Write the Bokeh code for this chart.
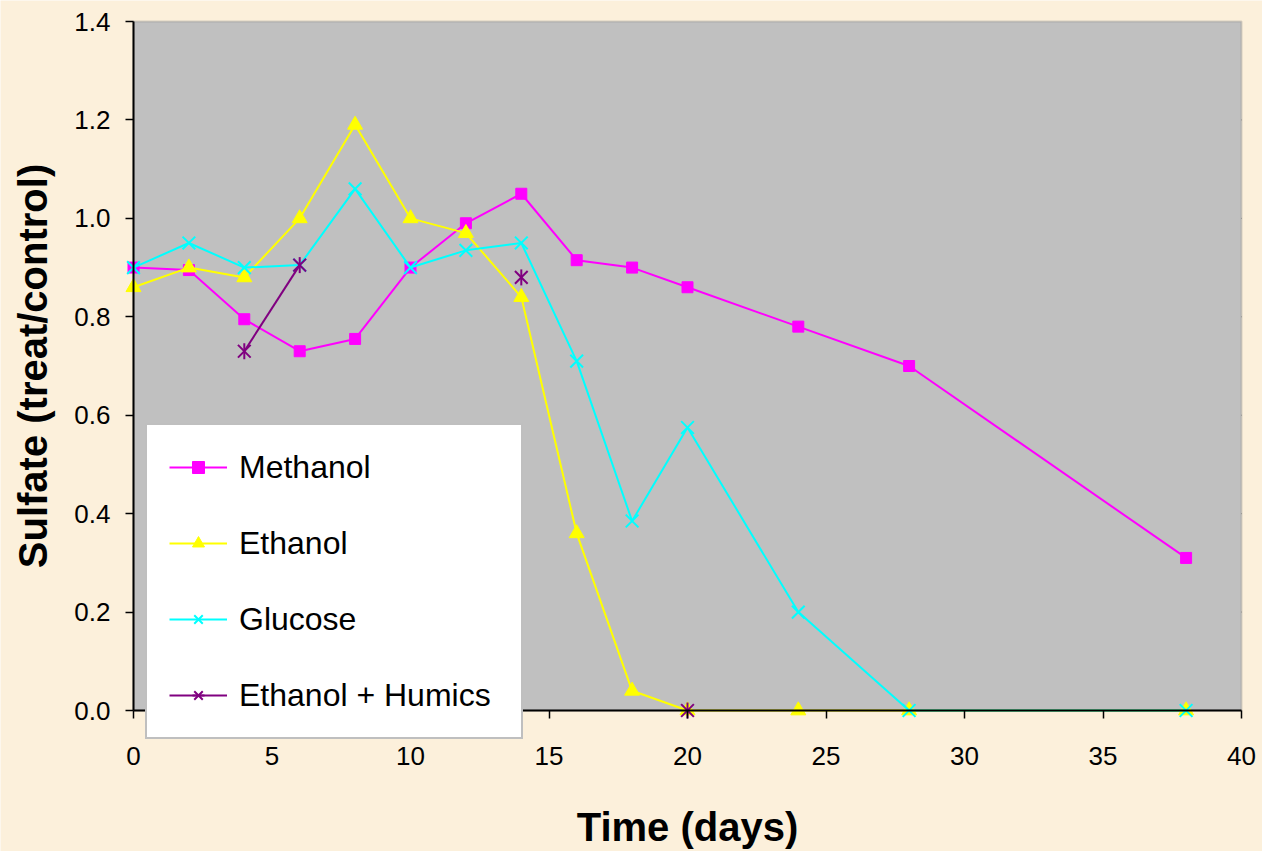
import math

from bokeh.embed import file_html
from bokeh.models import (BoxAnnotation, ColumnDataSource, FixedTicker, Legend,
                          LegendItem, PrintfTickFormatter, Range1d)
from bokeh.plotting import figure
from bokeh.resources import INLINE

# ---- data -------------------------------------------------------------
days = [0, 2, 4, 6, 8, 10, 12, 14, 16, 18, 20, 24, 28, 38]
methanol = [0.90, 0.895, 0.795, 0.73, 0.755, 0.90, 0.99, 1.05, 0.915, 0.90,
            0.86, 0.78, 0.70, 0.31]
ethanol = [0.86, 0.90, 0.88, 1.00, 1.19, 1.00, 0.97, 0.84, 0.36, 0.04,
           0.0, 0.0, 0.0, 0.0]
glucose = [0.90, 0.95, 0.90, 0.905, 1.06, 0.90, 0.935, 0.95, 0.71, 0.385,
           0.575, 0.20, 0.0, 0.0]
humic_days = [4, 6, 8, 10, 12, 14, 16, 18, 20]
ethanol_humics = [0.73, 0.905, math.nan, math.nan, math.nan, 0.88,
                  math.nan, math.nan, 0.0]

x_ticks = [0, 5, 10, 15, 20, 25, 30, 35, 40]
y_ticks = [0.0, 0.2, 0.4, 0.6, 0.8, 1.0, 1.2, 1.4]

# ---- layout -----------------------------------------------------------
FONT = "Liberation Sans"
PAPER = "#FCF0DB"
PANEL = "#C0C0C0"

W, H = 1262, 851
X_MIN, X_MAX = 0, 40
Y_MIN, Y_MAX = 0.0, 1.4
# pixel position of the plotting box inside the page
LEFT, RIGHT, TOP, BOTTOM = 133, 1241, 21, 710

# The frame covers the whole page; axes sit at fixed data positions so that
# markers on the zero line and the overhanging legend are never clipped.
sx = (RIGHT - LEFT) / (X_MAX - X_MIN)
sy = (BOTTOM - TOP) / (Y_MAX - Y_MIN)
x_range = Range1d(X_MIN - LEFT / sx, X_MAX + (W - RIGHT) / sx)
y_range = Range1d(Y_MIN - (H - BOTTOM) / sy, Y_MAX + TOP / sy)

p = figure(width=W, height=H, output_backend="svg", toolbar_location=None,
           x_range=x_range, y_range=y_range,
           min_border_left=0, min_border_right=0,
           min_border_top=0, min_border_bottom=0)

p.background_fill_color = PAPER
p.border_fill_color = PAPER
p.outline_line_color = None
p.grid.visible = False

# grey plotting area with its grey rim
p.add_layout(BoxAnnotation(left=X_MIN, right=X_MAX, bottom=Y_MIN, top=Y_MAX,
                           fill_color=PANEL, fill_alpha=1,
                           line_color="#808080", line_width=2,
                           level="underlay"))

# horizontal gridlines limited to the plotting box
grid_src = ColumnDataSource(dict(y=y_ticks[1:-1]))
p.segment(x0=X_MIN, x1=X_MAX, y0="y", y1="y", source=grid_src,
          line_color="black", line_width=1, level="underlay")

p.xaxis.ticker = FixedTicker(ticks=x_ticks)
p.yaxis.ticker = FixedTicker(ticks=y_ticks)
p.yaxis.formatter = PrintfTickFormatter(format="%.1f")
p.xaxis.bounds = (X_MIN, X_MAX)
p.yaxis.bounds = (Y_MIN, Y_MAX)
p.xaxis.fixed_location = Y_MIN
p.yaxis.fixed_location = X_MIN

for ax in (p.xaxis, p.yaxis):
    ax.axis_line_color = "black"
    ax.axis_line_width = 2
    ax.major_tick_line_color = "black"
    ax.major_tick_line_width = 1.5
    ax.major_tick_in = 0
    ax.major_tick_out = 8
    ax.minor_tick_line_color = None
    ax.major_label_text_font = FONT
    ax.major_label_text_font_size = "26px"
    ax.major_label_text_color = "black"
    ax.axis_label_text_font = FONT
    ax.axis_label_text_font_style = "bold"
    ax.axis_label_text_font_size = "40px"
    ax.axis_label_text_color = "black"

p.xaxis.axis_label = "Time (days)"
p.yaxis.axis_label = "Sulfate (treat/control)"
p.xaxis.major_label_standoff = 28
p.xaxis.axis_label_standoff = 37
p.yaxis.major_label_standoff = 15
p.yaxis.axis_label_standoff = 16

src = ColumnDataSource(dict(day=days, methanol=methanol, ethanol=ethanol,
                            glucose=glucose))
hsrc = ColumnDataSource(dict(day=humic_days, value=ethanol_humics))

# Methanol
m_line = p.line("day", "methanol", source=src, line_color="#FF00FF", line_width=2)
m_pts = p.scatter("day", "methanol", source=src, marker="square", size=11,
                  fill_color="#FF00FF", line_color="#FF00FF")

# Ethanol
e_line = p.line("day", "ethanol", source=src, line_color="#FFFF00", line_width=2)
e_pts = p.scatter("day", "ethanol", source=src, marker="triangle", size=15,
                  fill_color="#FFFF00", line_color="#FFFF00")

# Glucose
g_line = p.line("day", "glucose", source=src, line_color="#00FFFF", line_width=2)
g_pts = p.scatter("day", "glucose", source=src, marker="x", size=18,
                  line_color="#00FFFF", line_width=2)

# Ethanol + Humics (six-spoke star = x plus a vertical stroke)
h_line = p.line("day", "value", source=hsrc, line_color="#800080", line_width=2)
h_x = p.scatter("day", "value", source=hsrc, marker="x", size=18,
                line_color="#800080", line_width=2)
h_bar = p.scatter("day", "value", source=hsrc, marker="dash", size=16,
                  angle=math.pi / 2, line_color="#800080", line_width=2)

legend = Legend(items=[
    LegendItem(label="Methanol", renderers=[m_line, m_pts]),
    LegendItem(label="Ethanol", renderers=[e_line, e_pts]),
    LegendItem(label="Glucose", renderers=[g_line, g_pts]),
    LegendItem(label="Ethanol + Humics", renderers=[h_line, h_x, h_bar]),
], location=(LEFT + 12, H - 739))
legend.label_text_font = FONT
legend.label_text_font_size = "32px"
legend.label_text_color = "black"
legend.label_height = 40
legend.label_width = 260
legend.glyph_height = 30
legend.glyph_width = 58
legend.label_standoff = 12
legend.spacing = 36
legend.padding = 22
legend.margin = 0
legend.background_fill_color = "white"
legend.background_fill_alpha = 1
legend.border_line_color = "#808080"
legend.border_line_width = 2
p.add_layout(legend, "center")

open("out.html", "w").write(file_html(p, INLINE))
